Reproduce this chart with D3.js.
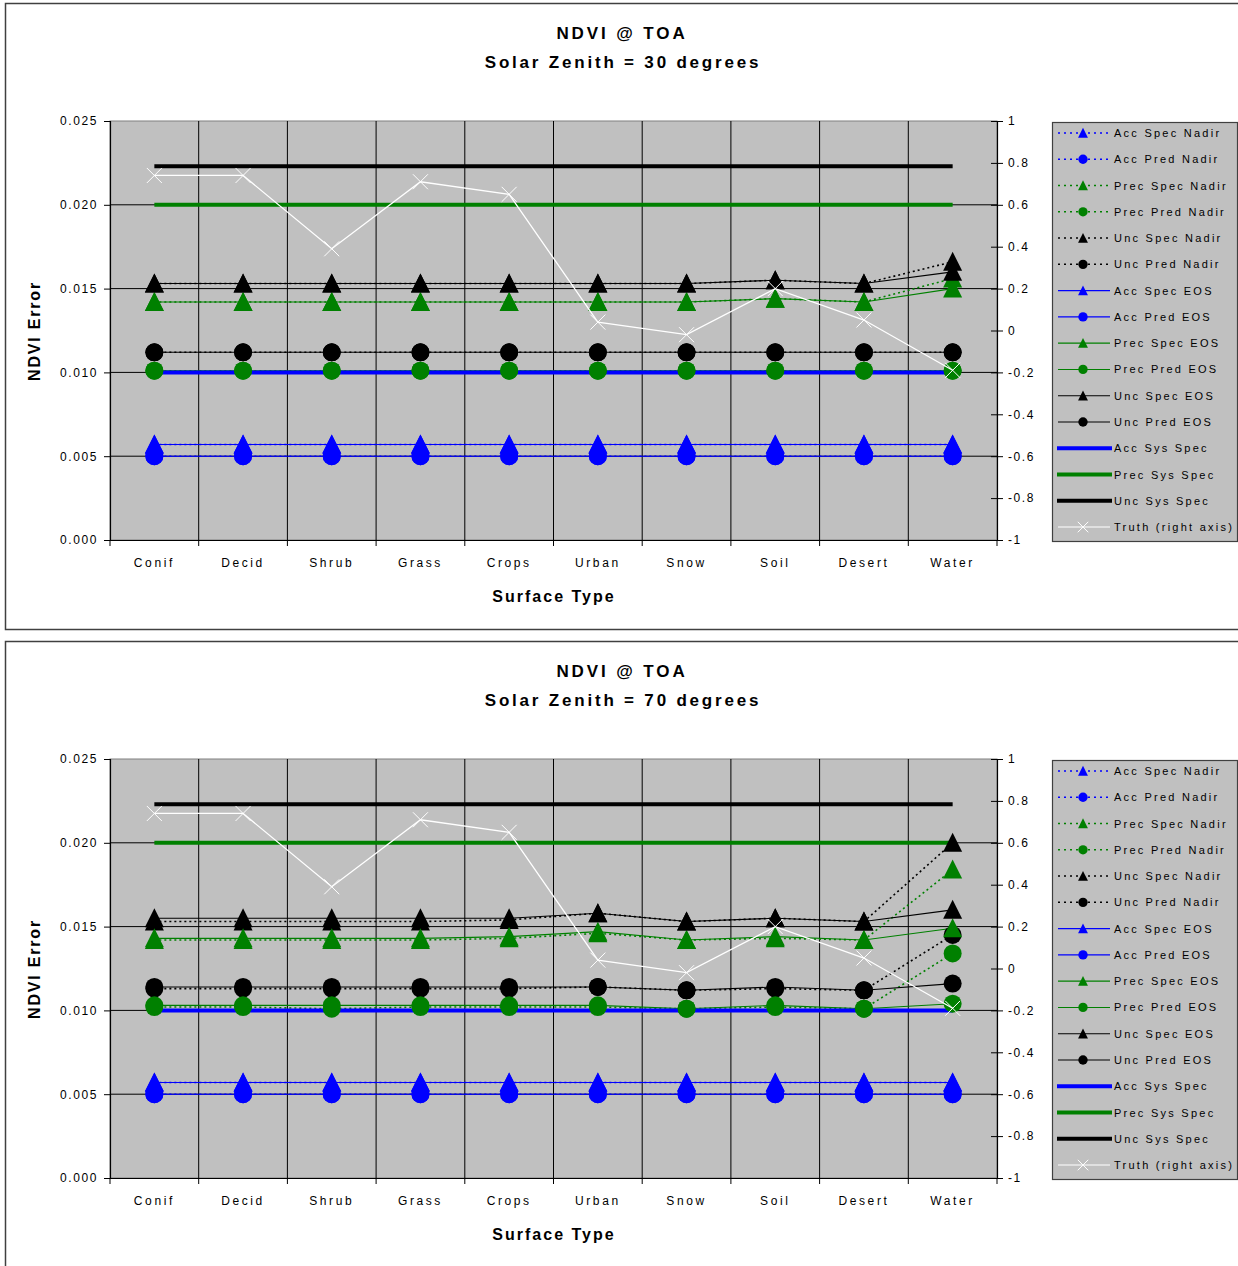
<!DOCTYPE html>
<html><head><meta charset="utf-8">
<script src="https://cdn.jsdelivr.net/npm/d3@7"></script>
<style>
body{margin:0;background:#fff}
svg{display:block}
text{font-family:"Liberation Sans",Arial,sans-serif;fill:#000}
</style>
</head><body>
<svg id="c" width="1238" height="1266"></svg>
<script>
// ---------- DATA ----------
const categories = ["Conif","Decid","Shrub","Grass","Crops","Urban","Snow","Soil","Desert","Water"];
const leftTicks = [0, 0.005, 0.010, 0.015, 0.020, 0.025];
const rightTicks = [-1, -0.8, -0.6, -0.4, -0.2, 0, 0.2, 0.4, 0.6, 0.8, 1];
const titleText = "NDVI @ TOA";
const subtitles = ["Solar Zenith = 30 degrees", "Solar Zenith = 70 degrees"];
const xTitle = "Surface Type";
const yTitle = "NDVI Error";

// truth (right axis), same for both charts
const truth = [0.74, 0.74, 0.39, 0.71, 0.65, 0.04, -0.02, 0.20, 0.05, -0.19];

// system specs
const accSysSpec  = [0.0100,0.0100,0.0100,0.0100,0.0100,0.0100,0.0100,0.0100,0.0100,0.0100];
const precSysSpec = [0.0200,0.0200,0.0200,0.0200,0.0200,0.0200,0.0200,0.0200,0.0200,0.0200];
const uncSysSpec  = [0.0223,0.0223,0.0223,0.0223,0.0223,0.0223,0.0223,0.0223,0.0223,0.0223];

// accuracy (same both charts)
const accSpec = [0.0057,0.0057,0.0057,0.0057,0.0057,0.0057,0.0057,0.0057,0.0057,0.0057];
const accPred = [0.0050,0.0050,0.0050,0.0050,0.0050,0.0050,0.0050,0.0050,0.0050,0.0050];

// Solar zenith 30
const z30PrecSpecNadir = [0.0142,0.0142,0.0142,0.0142,0.0142,0.0142,0.0142,0.0144,0.0142,0.0156];
const z30PrecPredNadir = [0.0101,0.0101,0.0101,0.0101,0.0101,0.0101,0.0101,0.0101,0.0101,0.0101];
const z30UncSpecNadir  = [0.0153,0.0153,0.0153,0.0153,0.0153,0.0153,0.0153,0.0155,0.0153,0.0166];
const z30UncPredNadir  = [0.0112,0.0112,0.0112,0.0112,0.0112,0.0112,0.0112,0.0112,0.0112,0.0112];
const z30PrecSpecEOS   = [0.0142,0.0142,0.0142,0.0142,0.0142,0.0142,0.0142,0.0144,0.0142,0.0150];
const z30PrecPredEOS   = [0.0101,0.0101,0.0101,0.0101,0.0101,0.0101,0.0101,0.0101,0.0101,0.0101];
const z30UncSpecEOS    = [0.0153,0.0153,0.0153,0.0153,0.0153,0.0153,0.0153,0.0155,0.0153,0.0160];
const z30UncPredEOS    = [0.0112,0.0112,0.0112,0.0112,0.0112,0.0112,0.0112,0.0112,0.0112,0.0112];

// Solar zenith 70
const z70PrecSpecNadir = [0.0142,0.0142,0.0142,0.0142,0.0143,0.0146,0.0142,0.0143,0.0142,0.0184];
const z70PrecPredNadir = [0.0102,0.0102,0.0101,0.0102,0.0102,0.0102,0.0101,0.0102,0.0101,0.0134];
const z70UncSpecNadir  = [0.0153,0.0153,0.0153,0.0153,0.0154,0.0158,0.0153,0.0155,0.0153,0.0200];
const z70UncPredNadir  = [0.0113,0.0113,0.0113,0.0113,0.0113,0.0114,0.0112,0.0113,0.0112,0.0145];
const z70PrecSpecEOS   = [0.0143,0.0143,0.0143,0.0143,0.0144,0.0147,0.0142,0.0144,0.0142,0.0149];
const z70PrecPredEOS   = [0.0103,0.0103,0.0103,0.0103,0.0103,0.0103,0.0101,0.0103,0.0101,0.0104];
const z70UncSpecEOS    = [0.0155,0.0155,0.0155,0.0155,0.0155,0.0158,0.0153,0.0155,0.0153,0.0160];
const z70UncPredEOS    = [0.0114,0.0114,0.0114,0.0114,0.0114,0.0114,0.0112,0.0114,0.0112,0.0116];

// ---------- SERIES TABLES ----------
function buildSeries(psn, ppn, usn, upn, pse, ppe, use, upe) {
  return [
    {name:"Acc Spec Nadir",  vals:accSpec, color:"#0000ff", dash:true,  marker:"tri"},
    {name:"Acc Pred Nadir",  vals:accPred, color:"#0000ff", dash:true,  marker:"circ"},
    {name:"Prec Spec Nadir", vals:psn,     color:"#008000", dash:true,  marker:"tri"},
    {name:"Prec Pred Nadir", vals:ppn,     color:"#008000", dash:true,  marker:"circ"},
    {name:"Unc Spec Nadir",  vals:usn,     color:"#000000", dash:true,  marker:"tri"},
    {name:"Unc Pred Nadir",  vals:upn,     color:"#000000", dash:true,  marker:"circ"},
    {name:"Acc Spec EOS",    vals:accSpec, color:"#0000ff", dash:false, marker:"tri"},
    {name:"Acc Pred EOS",    vals:accPred, color:"#0000ff", dash:false, marker:"circ"},
    {name:"Prec Spec EOS",   vals:pse,     color:"#008000", dash:false, marker:"tri"},
    {name:"Prec Pred EOS",   vals:ppe,     color:"#008000", dash:false, marker:"circ"},
    {name:"Unc Spec EOS",    vals:use,     color:"#000000", dash:false, marker:"tri"},
    {name:"Unc Pred EOS",    vals:upe,     color:"#000000", dash:false, marker:"circ"},
    {name:"Acc Sys Spec",    vals:accSysSpec,  color:"#0000ff", thick:true, marker:null},
    {name:"Prec Sys Spec",   vals:precSysSpec, color:"#008000", thick:true, marker:null},
    {name:"Unc Sys Spec",    vals:uncSysSpec,  color:"#000000", thick:true, marker:null},
    {name:"Truth (right axis)", vals:truth, color:"#ffffff", right:true, marker:"x"}
  ];
}
const series30 = buildSeries(z30PrecSpecNadir,z30PrecPredNadir,z30UncSpecNadir,z30UncPredNadir,z30PrecSpecEOS,z30PrecPredEOS,z30UncSpecEOS,z30UncPredEOS);
const series70 = buildSeries(z70PrecSpecNadir,z70PrecPredNadir,z70UncSpecNadir,z70UncPredNadir,z70PrecSpecEOS,z70PrecPredEOS,z70UncSpecEOS,z70UncPredEOS);

// ---------- DRAW ----------
const svg = d3.select("#c");

function triPath(cx, cy, s) { return `M${cx},${cy - s*1.0}L${cx + s*0.95},${cy + s*0.9}L${cx - s*0.95},${cy + s*0.9}Z`; }
function xPath(cx, cy, s) { return `M${cx-s},${cy-s}L${cx+s},${cy+s}M${cx-s},${cy+s}L${cx+s},${cy-s}`; }

function drawMarker(g, type, cx, cy, color, s) {
  if (type === "tri") g.append("path").attr("d", triPath(cx, cy, s)).attr("fill", color);
  else if (type === "circ") g.append("circle").attr("cx", cx).attr("cy", cy).attr("r", s*0.9).attr("fill", color);
  else if (type === "x") g.append("path").attr("d", xPath(cx, cy, s*0.75)).attr("stroke", color).attr("stroke-width", 1).attr("fill", "none");
}

function drawChart(offset, subtitle, series) {
  const g = svg.append("g").attr("transform", `translate(0,${offset})`);
  g.append("rect").attr("x", 5.5).attr("y", 3.5).attr("width", 1240).attr("height", 626)
    .attr("fill", "#fff").attr("stroke", "#404040").attr("stroke-width", 1.5);

  const x = d3.scaleBand().domain(categories).range([110, 997]);
  const cx = c => x(c) + x.bandwidth() / 2;
  const y = d3.scaleLinear().domain([0, 0.025]).range([540, 121]);
  const yR = d3.scaleLinear().domain([-1, 1]).range([540, 121]);

  // titles
  g.append("text").attr("x", 622).attr("y", 39).attr("text-anchor", "middle")
    .attr("font-size", 17).attr("font-weight", "bold").attr("letter-spacing", 2.9).text(titleText);
  g.append("text").attr("x", 623).attr("y", 68).attr("text-anchor", "middle")
    .attr("font-size", 17).attr("font-weight", "bold").attr("letter-spacing", 2.8).text(subtitle);
  g.append("text").attr("x", 554).attr("y", 602).attr("text-anchor", "middle")
    .attr("font-size", 16).attr("font-weight", "bold").attr("letter-spacing", 2).text(xTitle);
  g.append("text").attr("transform", "translate(40,331) rotate(-90)").attr("text-anchor", "middle")
    .attr("font-size", 16).attr("font-weight", "bold").attr("letter-spacing", 1.8).text(yTitle);

  // plot area
  g.append("rect").attr("x", 110).attr("y", 121).attr("width", 887).attr("height", 419)
    .attr("fill", "#c0c0c0").attr("stroke", "#808080").attr("stroke-width", 1);

  // gridlines
  categories.slice(1).forEach(c => {
    g.append("line").attr("x1", x(c)).attr("x2", x(c)).attr("y1", 121).attr("y2", 540)
      .attr("stroke", "#000").attr("stroke-width", 1);
  });
  leftTicks.filter(v => v > 0 && v < 0.025).forEach(v => {
    g.append("line").attr("x1", 110).attr("x2", 997).attr("y1", y(v)).attr("y2", y(v))
      .attr("stroke", "#000").attr("stroke-width", 1);
  });

  // axes
  const la = g.append("g").attr("transform", "translate(110,0)")
    .call(d3.axisLeft(y).tickValues(leftTicks).tickFormat(d3.format(".3f")).tickSize(6).tickPadding(6));
  const ra = g.append("g").attr("transform", "translate(997,0)")
    .call(d3.axisRight(yR).tickValues(rightTicks).tickFormat(d => d === 0 ? "0" : (Math.abs(d) === 1 ? String(d) : d.toFixed(1))).tickSize(6).tickPadding(5));
  ra.selectAll(".tick line").attr("x1", -6);
  const ba = g.append("g").attr("transform", "translate(0,540)")
    .call(d3.axisBottom(x).tickSize(0).tickPadding(18.5));
  [...categories.map(c => x(c)), 997].forEach(px => {
    g.append("line").attr("x1", px).attr("x2", px).attr("y1", 540).attr("y2", 546).attr("stroke", "#000");
  });
  [la, ra, ba].forEach(a => {
    a.attr("font-family", null).attr("font-size", null);
    a.selectAll("path.domain").attr("stroke", "#000").attr("stroke-width", 1.2);
    a.selectAll(".tick line").attr("stroke", "#000");
    a.selectAll("text").attr("font-size", 12).attr("letter-spacing", 2).attr("fill", "#000");
  });
  la.selectAll("text").attr("letter-spacing", 1.6);
  ra.selectAll("text").attr("letter-spacing", 1.6);
  ba.selectAll("text").attr("letter-spacing", 2.6);

  // primary lines
  const line = d3.line().x((d, i) => cx(categories[i])).y(d => y(d));
  const lineR = d3.line().x((d, i) => cx(categories[i])).y(d => yR(d));
  const prim = series.filter(s => !s.right);
  prim.forEach(s => {
    g.append("path").attr("d", line(s.vals)).attr("fill", "none").attr("stroke", s.color)
      .attr("stroke-width", s.thick ? 4 : (s.dash ? 1.6 : 1.1))
      .attr("stroke-dasharray", s.dash ? "2,3" : null);
  });
  // primary markers
  prim.filter(s => s.marker).forEach(s => {
    s.vals.forEach((v, i) => drawMarker(g, s.marker, cx(categories[i]), y(v), s.color, 10));
  });
  // truth
  series.filter(s => s.right).forEach(s => {
    g.append("path").attr("d", lineR(s.vals)).attr("fill", "none").attr("stroke", s.color).attr("stroke-width", 1.3);
    s.vals.forEach((v, i) => drawMarker(g, s.marker, cx(categories[i]), yR(v), s.color, 10));
  });

  // legend
  const lg = g.append("g");
  lg.append("rect").attr("x", 1052.5).attr("y", 122.5).attr("width", 185).attr("height", 419)
    .attr("fill", "#c0c0c0").attr("stroke", "#404040").attr("stroke-width", 1.2);
  series.forEach((s, i) => {
    const ly = 133 + i * 26.27;
    lg.append("line").attr("x1", s.thick ? 1057 : 1058).attr("x2", s.thick ? 1112 : 1110).attr("y1", ly).attr("y2", ly)
      .attr("stroke", s.color).attr("stroke-width", s.thick ? 4 : (s.dash ? 1.5 : 1.1))
      .attr("stroke-dasharray", s.dash ? "2,4" : null);
    if (s.marker) drawMarker(lg, s.marker, 1083, ly, s.color, s.marker === "x" ? 7 : 5.2);
    lg.append("text").attr("x", 1114).attr("y", ly + 4).attr("font-size", 11).attr("letter-spacing", 2.25).text(s.name);
  });
}

drawChart(0, subtitles[0], series30);
drawChart(638, subtitles[1], series70);
</script>
</body></html>
